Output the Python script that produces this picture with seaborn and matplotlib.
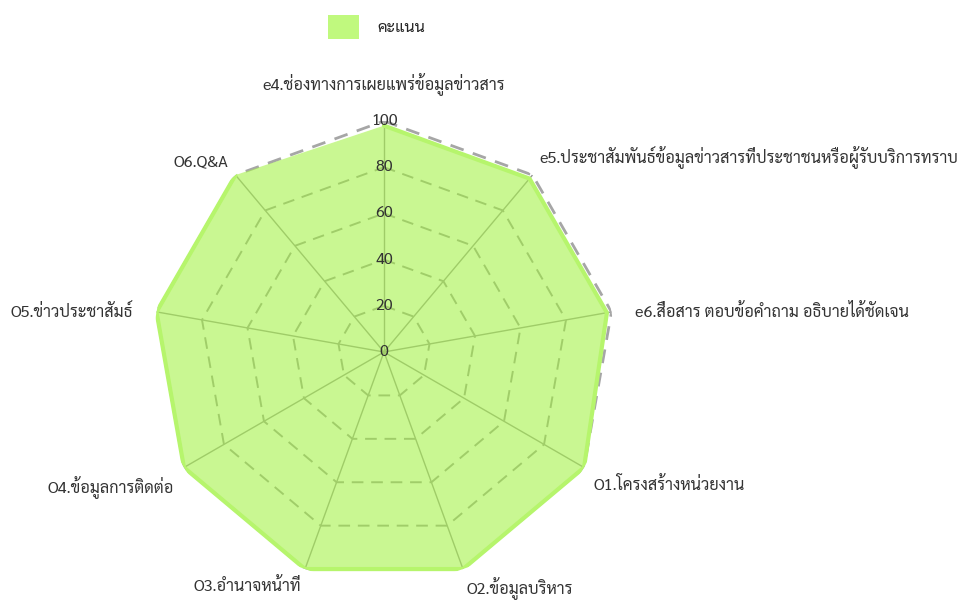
import numpy as np
import matplotlib
matplotlib.use("Agg")
import matplotlib.pyplot as plt
import seaborn as sns
from matplotlib.patches import Patch

categories = [
    "e4.ช่องทางการเผยแพร่ข้อมูลข่าวสาร",
    "e5.ประชาสัมพันธ์ข้อมูลข่าวสารที่ประชาชนหรือผู้รับบริการทราบ",
    "e6.สื่อสาร ตอบข้อคำถาม อธิบายได้ชัดเจน",
    "O1.โครงสร้างหน่วยงาน",
    "O2.ข้อมูลบริหาร",
    "O3.อำนาจหน้าที่",
    "O4.ข้อมูลการติดต่อ",
    "O5.ข่าวประชาสัมธ์",
    "O6.Q&A",
]
values = [98, 98, 98, 100, 100, 100, 100, 100, 100]
ticks = [0, 20, 40, 60, 80, 100]
series_name = "คะแนน"

sns.set_theme(style="white")
plt.rcParams["font.family"] = ["Sarabun", "Noto Sans Thai", "DejaVu Sans"]

W, H = 972, 604
fig = plt.figure(figsize=(W / 100, H / 100), dpi=100)
cx, cy, R = 384, 352, 231
ax = fig.add_axes([(cx - R) / W, (H - cy - R) / H, 2 * R / W, 2 * R / H], projection="polar")
ax.set_theta_offset(np.pi / 2)
ax.set_theta_direction(-1)
ax.set_ylim(0, 100)
ax.grid(False)
ax.spines["polar"].set_visible(False)
ax.set_xticks([])
ax.set_yticks([])
ax.patch.set_alpha(0)

n = len(categories)
ang = np.linspace(0, 2 * np.pi, n, endpoint=False)
ang_c = np.append(ang, ang[0])

# spokes
for a in ang:
    ax.plot([a, a], [0, 100], color="#959595", lw=1.0, zorder=1)
# polygon grid
for t in ticks[1:-1]:
    ax.plot(ang_c, [t] * (n + 1), color="#989898", lw=1.4, ls=(0, (6, 4)), zorder=1)
ax.plot(ang_c, [100] * (n + 1), color="#a6a6a6", lw=2.0, ls=(0, (5, 3.5)), zorder=1)

vals_c = values + values[:1]
ax.fill(ang_c, vals_c, color="#a6f24a", alpha=0.6, zorder=2, lw=0)
sns.lineplot(x=ang_c, y=vals_c, sort=False, ax=ax, color="#b6f56c", lw=3, zorder=3)
ax.set_xlabel("")
ax.set_ylabel("")

for t in ticks:
    ax.text(0, t, str(t), ha="center", va="center", fontsize=11.5, color="#333333", zorder=4)

for a, lab in zip(ang, categories):
    dx, dy = np.sin(a), np.cos(a)
    if abs(dx) < 0.05:
        ha = "center"
    elif dx > 0:
        ha = "left"
    else:
        ha = "right"
    if abs(dy) < 0.3:
        va, oy, ox = "center", 0, dx * 17
    elif abs(dx) < 0.05:
        va, oy, ox = "bottom", 18, 0
    elif dy > 0:
        va, oy, ox = "bottom", 4.5, dx * 8
    else:
        va, oy, ox = "top", -6, dx * 8
    ax.annotate(lab, xy=(a, 100), xytext=(ox, oy),
                textcoords="offset points", ha=ha, va=va, fontsize=11.7, color="#333333",
                annotation_clip=False)

h = Patch(facecolor="#c0f97e", edgecolor="none")
fig.legend([h], [series_name], loc="center", bbox_to_anchor=(377 / W, 1 - 27 / H),
           frameon=False, fontsize=11.5, handlelength=1.9, handleheight=1.9,
           handletextpad=1.2, borderpad=0)

fig.savefig("out.png", dpi=100)
